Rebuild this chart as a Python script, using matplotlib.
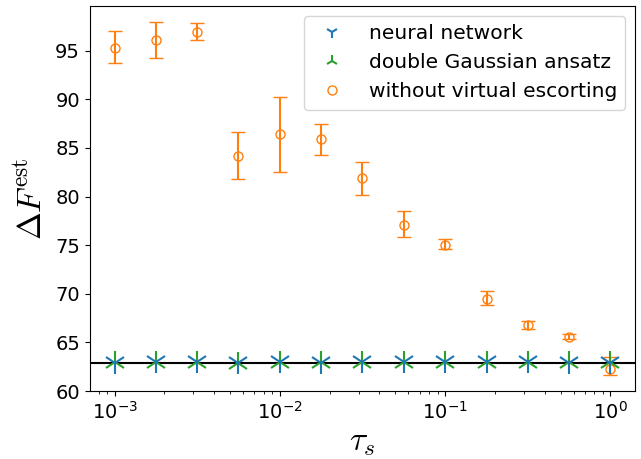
import numpy as np
import matplotlib
matplotlib.use("Agg")
import matplotlib.pyplot as plt
from matplotlib.lines import Line2D

plt.rcParams['mathtext.fontset'] = 'cm'

tau = [1e-3, 1.78e-3, 3.16e-3, 5.62e-3, 1e-2, 1.78e-2, 3.16e-2,
       5.62e-2, 1e-1, 1.78e-1, 3.16e-1, 5.62e-1, 1.0]

nn_vals = [62.9, 62.95, 62.95, 62.85, 62.95, 62.9, 62.95,
           62.95, 62.95, 62.95, 62.95, 62.9, 62.9]
dg_vals = [62.95, 62.95, 62.95, 62.9, 63.0, 62.95, 63.0,
           62.95, 63.0, 62.95, 62.95, 62.95, 62.95]

wo_vals = [95.3, 96.1, 96.9, 84.2, 86.4, 85.9, 81.9,
           77.1, 75.05, 69.5, 66.8, 65.6, 62.3]
wo_lo = [93.7, 94.3, 96.1, 81.8, 82.5, 84.3, 80.2,
         75.8, 74.6, 68.9, 66.4, 65.35, 61.7]
wo_hi = [97.0, 97.9, 97.8, 86.6, 90.2, 87.5, 83.6,
         78.5, 75.6, 70.3, 67.2, 65.85, 63.5]

exact = 62.9

wo_err = [np.array(wo_vals) - np.array(wo_lo), np.array(wo_hi) - np.array(wo_vals)]

fig = plt.figure(figsize=(6.41, 4.59), dpi=100)
ax = fig.add_axes([0.140, 0.148, 0.851, 0.839])

ax.axhline(exact, color='k', lw=1.5, zorder=1)
ax.errorbar(tau, dg_vals, fmt='2', color='C2', ms=16, mew=1.5, zorder=3)
ax.errorbar(tau, nn_vals, fmt='1', color='C0', ms=16, mew=1.5, zorder=4)
ax.errorbar(tau, wo_vals, yerr=wo_err, fmt='o', color='C1', mfc='none',
            ms=6.5, capsize=5, zorder=2)

ax.set_xscale('log')
ax.set_ylim(60, 99.6)
ax.set_yticks([60, 65, 70, 75, 80, 85, 90, 95])
ax.tick_params(labelsize=14)
ax.set_xlabel(r'$\tau_s$', fontsize=24, labelpad=2)
ax.set_ylabel(r'$\Delta F^{\rm est}$', fontsize=24)

# smaller markers in the legend than on the plot
handles = [Line2D([], [], ls='none', marker='1', color='C0', ms=9, mew=1.5),
           Line2D([], [], ls='none', marker='2', color='C2', ms=9, mew=1.5),
           Line2D([], [], ls='none', marker='o', color='C1', mfc='none', ms=6.5)]
ax.legend(handles,
          ['neural network', 'double Gaussian ansatz', 'without virtual escorting'],
          fontsize=14.6, loc='upper right')

fig.savefig('out.png')
